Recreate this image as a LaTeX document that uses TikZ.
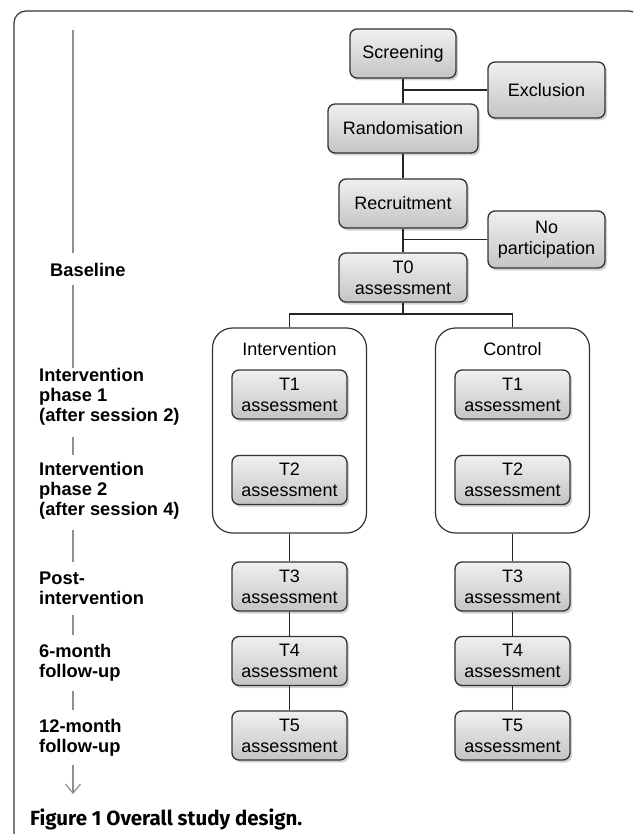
\documentclass[tikz,border=0pt]{standalone}
\usepackage{fontspec}
\setmainfont{Liberation Sans}
\newfontfamily\capfont{Fira Sans}
\usetikzlibrary{shadows,arrows.meta}

\definecolor{boxline}{HTML}{333333}
\definecolor{boxtop}{HTML}{F0F0F0}
\definecolor{boxbottom}{HTML}{C4C4C4}
\definecolor{axisgray}{HTML}{8E8E8E}

\tikzset{stage/.style={draw=boxline,line width=1.3pt,rounded corners=7pt,top color=boxtop,bottom color=boxbottom,
  drop shadow={shadow xshift=2pt,shadow yshift=-2.5pt,opacity=0.35},align=center,inner sep=1pt,
  font=\fontsize{18}{21}\selectfont,minimum height=49pt},
assess/.style={stage,minimum width=115pt},
arm/.style={draw=boxline,line width=1.2pt,rounded corners=20pt,fill=white,minimum width=154pt,minimum height=205pt},
arm title/.style={font=\fontsize{18}{21}\selectfont,inner sep=0pt},
phase/.style={font=\bfseries\fontsize{18.3}{20}\selectfont,align=left,anchor=west,inner sep=0pt},
link/.style={line width=1.3pt,draw=black!85},
axis/.style={line width=1.5pt,draw=axisgray}}

\begin{document}
\begin{tikzpicture}[x=1pt,y=-1pt]
\useasboundingbox (0,0) rectangle (633,834);
\clip (0,0) rectangle (633,834);

%% outer frame
\draw [line width=1.2pt,draw=boxline,rounded corners=12pt] (14,850) -- (14,11) -- (641,11) -- (641,850);

%% Coordinates of nodes.
\coordinate (c-screen) at (403,53.5);
\coordinate (c-excl) at (546.5,90);
\coordinate (c-rand) at (403,128.5);
\coordinate (c-recr) at (403,203.5);
\coordinate (c-nopart) at (546.5,239.5);
\coordinate (c-tzero) at (403,277.5);
\coordinate (split) at (403,314);
\coordinate (c-armI) at (289.5,430.5);
\coordinate (c-armC) at (512.5,430.5);

%% time axis on the left
\foreach \ya/\yb in {30/253,285/368,437/455,530/562,615/635,691/710}
  \draw [axis] (73,\ya) -- (73,\yb);
\draw [axis,line width=1.2pt,-{Straight Barb[length=9pt,width=15pt]}] (73,765) -- (73,794);

%% phase labels
\node [phase] (base) at (50,270) {Baseline};
\node [phase] (ph1) at (39,397) {Intervention\\phase 1\\(after session 2)};
\node [phase] (ph2) at (39,491) {Intervention\\phase 2\\(after session 4)};
\node [phase] (post) at (39,588.5) {Post-\\intervention};
\node [phase] (fu6) at (39,663) {6-month\\follow-up};
\node [phase] (fu12) at (39,738) {12-month\\follow-up};

%% arm boxes
\node [arm] (armI) at (c-armI) {};
\node [arm] (armC) at (c-armC) {};
\node [arm title] (ttlI) at (289.5,349) {Intervention};
\node [arm title] (ttlC) at (512.5,349) {Control};

%% main column
\node [stage,minimum width=106pt] (screen) at (c-screen) {Screening};
\node [stage,minimum width=117pt,minimum height=56pt] (excl) at (c-excl) {Exclusion};
\node [stage,minimum width=150pt] (rand) at (c-rand) {Randomisation};
\node [stage,minimum width=128pt] (recr) at (c-recr) {Recruitment};
\node [stage,minimum width=117pt,minimum height=57pt] (nopart) at (c-nopart) {No\\participation};
\node [stage,minimum width=128pt] (tzero) at (c-tzero) {T0\\assessment};

%% assessments in both arms
\foreach \arm/\x in {I/289.5,C/512.5}{
  \node [assess] (t1\arm) at (\x,394.5) {T1\\assessment};
  \node [assess] (t2\arm) at (\x,480) {T2\\assessment};
  \node [assess] (t3\arm) at (\x,586.5) {T3\\assessment};
  \node [assess] (t4\arm) at (\x,661) {T4\\assessment};
  \node [assess] (t5\arm) at (\x,735.5) {T5\\assessment};
}

%% vertical lines
\draw [link] (screen.south) -- (rand.north);
\draw [link] (rand.south) -- (recr.north);
\draw [link] (recr.south) -- (tzero.north);
\draw [link] (tzero.south) -- (split);
\foreach \arm in {I,C}{
  \draw [link] (arm\arm.south) -- (t3\arm.north);
  \draw [link] (t3\arm.south) -- (t4\arm.north);
  \draw [link] (t4\arm.south) -- (t5\arm.north);
}

%% side branches
\draw [link] (screen.south |- excl.west) -- (excl.west);
\draw [link] (recr.south |- nopart.west) -- (nopart.west);
\draw [link] (armI.north) |- (split) -| (armC.north);

%% caption
\node [anchor=west,inner sep=0pt,font=\capfont\bfseries\fontsize{20.5}{24}\selectfont] (caption) at (30,819) {Figure 1 Overall study design.};

\end{tikzpicture}
\end{document}
